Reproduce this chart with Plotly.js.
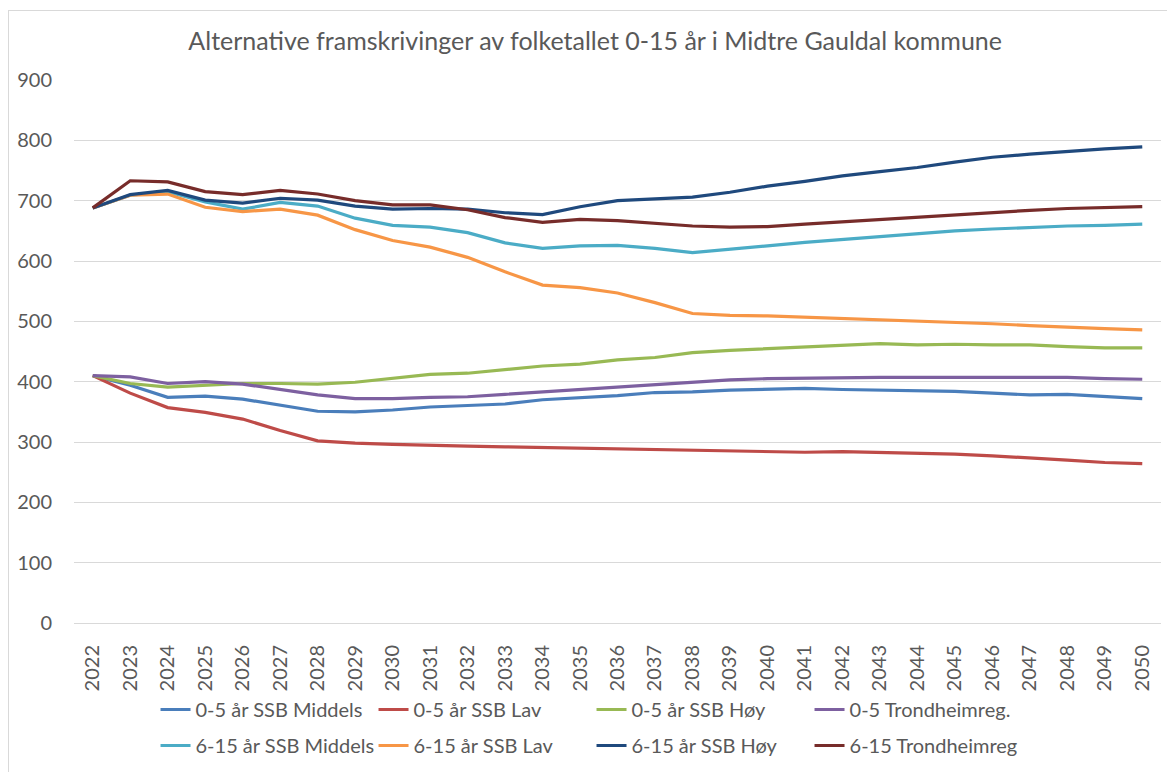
<!DOCTYPE html>
<html>
<head>
<meta charset="utf-8">
<script src="https://cdn.plot.ly/plotly-3.0.1.min.js"></script>
<style>
html,body{margin:0;padding:0;background:#fff;}
#wrap{position:relative;width:1167px;height:772px;}
#chart{width:1167px;height:772px;}
#frame{position:absolute;left:8px;top:10px;width:1170px;height:780px;border:1px solid #d9d9d9;pointer-events:none;}
</style>
</head>
<body>
<div id="wrap"><div id="chart"></div><div id="frame"></div></div>
<script>
const years = ["2022","2023","2024","2025","2026","2027","2028","2029","2030","2031","2032","2033","2034","2035","2036","2037","2038","2039","2040","2041","2042","2043","2044","2045","2046","2047","2048","2049","2050"];

const ssbMiddels05 = [410,394,374,376,371,361,351,350,353,358,360,363,370,373,377,382,383,386,388,389,387,386,386,384,381,378,379,375,372];
const ssbLav05     = [410,381,357,349,338,319,302,298,296,294,293,292,291,290,289,288,287,285,285,283,284,283,281,280,277,274,270,266,264];
const ssbHoy05     = [410,397,391,394,397,397,396,399,405,412,414,420,426,429,436,440,448,452,455,457,461,463,461,462,461,461,458,456,456];
const trondheim05  = [410,408,397,400,396,387,378,372,372,374,375,379,383,387,392,396,400,403,405,406,407,407,407,407,407,407,407,405,404];

const ssbMiddels615 = [688,709,715,698,686,697,691,671,659,656,647,630,621,625,626,621,614,619,625,631,636,640,645,650,653,656,658,659,661];
const ssbLav615     = [688,709,711,689,682,686,676,652,634,623,606,582,560,556,547,531,513,510,509,507,504,502,500,498,496,493,490,488,486];
const ssbHoy615     = [688,710,717,701,696,704,701,691,686,687,686,680,677,690,700,703,706,714,724,732,741,748,755,764,772,777,782,786,789];
const trondheim615  = [688,733,731,715,710,717,711,700,693,693,685,672,664,669,667,663,658,656,657,661,665,669,673,677,681,684,687,689,690];

const names = ["0-5 år SSB Middels","0-5 år SSB Lav","0-5 år SSB Høy","0-5 Trondheimreg.",
               "6-15 år SSB Middels","6-15 år SSB Lav","6-15 år SSB Høy","6-15 Trondheimreg"];
const series = [ssbMiddels05, ssbLav05, ssbHoy05, trondheim05, ssbMiddels615, ssbLav615, ssbHoy615, trondheim615];
const colors = ["#4a7ebb","#be4b48","#98b954","#7d60a0","#4bacc6","#f79646","#1f497d","#772c2a"];

const traces = series.map((s,i)=>({
  type:"scatter", mode:"lines", x:years, y:s, name:names[i],
  line:{color:colors[i], width:3.2},
  legend: i<4 ? "legend" : "legend2",
  hoverinfo:"skip"
}));

const FONT = "Lato, 'Open Sans', sans-serif";
const legBase = {
  orientation:"h", xanchor:"left", yanchor:"top", yref:"container",
  font:{family:FONT, size:20, color:"#595959"},
  entrywidth:173, entrywidthmode:"pixels",
  itemwidth:30, bgcolor:"rgba(0,0,0,0)", traceorder:"normal"
};

const layout = {
  width:1167, height:772,
  margin:{l:74, r:6, t:80, b:149},
  paper_bgcolor:"#ffffff", plot_bgcolor:"#ffffff",
  title:{text:"Alternative framskrivinger av folketallet 0-15 år i Midtre Gauldal kommune",
         font:{family:FONT, size:25, color:"#595959"}, x:0.51, xanchor:"center", y:0.947, yanchor:"middle"},
  xaxis:{type:"category", range:[-0.5,28.5], tickangle:-90, showgrid:false, automargin:false,
         showline:true, linecolor:"#d9d9d9", linewidth:1, ticks:"",
         tickfont:{family:FONT, size:20, color:"#595959"}, ticklabelstandoff:13, fixedrange:true},
  yaxis:{range:[0,900], dtick:100, tick0:0, showgrid:true, gridcolor:"#d9d9d9", gridwidth:1,
         zeroline:false, showline:false, ticks:"", automargin:false,
         tickfont:{family:FONT, size:20, color:"#595959"}, ticklabelstandoff:21, fixedrange:true},
  showlegend:true,
  legend:Object.assign({}, legBase, {x:0.075, y:0.1062}),
  legend2:Object.assign({}, legBase, {x:0.075, y:0.0596})
};

Plotly.newPlot("chart", traces, layout, {displayModeBar:false, staticPlot:true});
</script>
</body>
</html>
